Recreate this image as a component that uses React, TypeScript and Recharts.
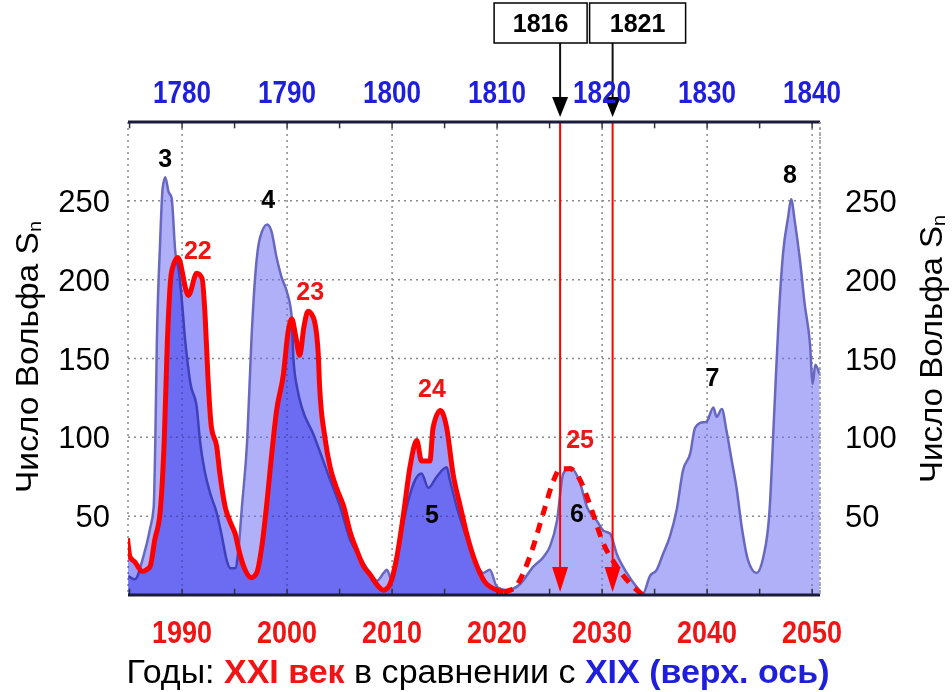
import {
  ComposedChart,
  Area,
  Line,
  XAxis,
  YAxis,
  CartesianGrid,
  ReferenceLine,
  ReferenceDot,
  Customized
} from "recharts"

// нижняя ось — XXI век, верхняя — XIX (сдвиг 210 лет)
const SHIFT = 210
const X_MIN = 1984.85
const X_MAX = 2050.75

const BOTTOM_TICKS = [1990, 2000, 2010, 2020, 2030, 2040, 2050]
const MINOR_TICKS = [1985, 1990, 1995, 2000, 2005, 2010, 2015, 2020, 2025, 2030, 2035, 2040, 2045, 2050]
const Y_TICKS = [50, 100, 150, 200, 250]

// циклы 3–8 (годы по верхней оси)
const OLD_YEARS = [
  1774.9, 1775.5, 1776.3, 1776.95, 1777.3, 1777.45, 1777.6, 1777.9, 1778.15, 1778.4,
  1778.7, 1779.0, 1779.35, 1779.7, 1780.0, 1780.3, 1780.5, 1780.8, 1781.4, 1781.7,
  1782.2, 1782.7, 1783.3, 1783.8, 1784.25, 1784.6, 1785.05, 1785.4, 1785.7, 1786.2,
  1786.6, 1786.95, 1787.4, 1788.1, 1788.5, 1789.0, 1789.5, 1789.95, 1790.45, 1790.6,
  1791.0, 1791.4, 1792.5, 1793.45, 1794.1, 1795.05, 1796.0, 1796.95, 1797.9, 1798.55,
  1799.2, 1799.5, 1800.0, 1800.75, 1801.55, 1802.2, 1802.8, 1803.45, 1804.25, 1805.2,
  1805.5, 1806.15, 1806.95, 1807.75, 1808.7, 1809.3, 1810.0, 1810.9, 1812.2, 1813.45,
  1814.4, 1815.05, 1815.7, 1816.3, 1816.95, 1817.9, 1818.55, 1819.5, 1820.1, 1820.75,
  1821.4, 1822.35, 1823.3, 1823.9, 1824.55, 1825.2, 1825.8, 1826.45, 1827.1, 1827.7,
  1828.4, 1828.85, 1829.3, 1829.95, 1830.6, 1830.9, 1831.4, 1831.85, 1832.35, 1832.8,
  1833.3, 1833.9, 1834.7, 1835.35, 1835.95, 1836.4, 1836.85, 1837.25, 1837.7, 1838.0,
  1838.35, 1838.85, 1839.3, 1839.8, 1840.05, 1840.3, 1840.7
]
const OLD_SN = [
  12, 10, 24, 42, 56, 98, 161, 222, 258, 265,
  256, 252, 218, 205, 185, 161, 149, 134, 119, 98,
  77, 64, 52, 37, 22, 17, 17, 31, 56, 98,
  161, 201, 226, 235, 231, 214, 201, 193, 176, 150,
  130, 119, 102, 85, 73, 56, 35, 24, 14, 9,
  14, 16, 9, 35, 60, 73, 77, 68, 75, 81,
  73, 56, 39, 24, 14, 16, 5, 3, 7, 18,
  24, 31, 47, 77, 81, 71, 56, 47, 41, 39,
  26, 14, 5, 1, 12, 16, 26, 37, 54, 79,
  90, 106, 109, 110, 119, 113, 118, 104, 85, 68,
  43, 22, 14, 24, 54, 117, 180, 218, 239, 251,
  237, 212, 184, 159, 134, 146, 140
]

// циклы 22–24 (годы по нижней оси)
const MODERN_YEARS = [
  1984.8, 1985.05, 1985.5, 1986.2, 1986.6, 1986.95, 1987.4, 1987.9, 1988.3, 1988.6,
  1989.0, 1989.6, 1990.6, 1991.4, 1991.9, 1992.2, 1992.45, 1992.8, 1993.3, 1993.6,
  1994.1, 1994.6, 1995.05, 1995.5, 1996.0, 1996.6, 1997.1, 1997.6, 1998.1, 1998.5,
  1999.0, 1999.65, 2000.1, 2000.45, 2000.8, 2001.2, 2001.6, 2002.0, 2002.5, 2002.95,
  2003.1, 2003.6, 2004.1, 2004.7, 2005.4, 2006.0, 2006.6, 2007.3, 2007.9, 2008.5,
  2009.2, 2009.65, 2010.45, 2011.1, 2011.7, 2012.35, 2012.8, 2013.6, 2013.9, 2014.6,
  2015.2, 2015.8, 2016.5, 2017.1, 2018.1, 2019.0, 2020.6
]
const MODERN_SN = [
  36, 24, 21, 15, 16, 18, 35, 52, 98, 161,
  205, 214, 190, 204, 201, 176, 140, 106, 94, 77,
  56, 46, 39, 26, 16, 11, 14, 31, 60, 87,
  117, 140, 167, 175, 165, 152, 170, 180, 176, 155,
  132, 100, 81, 68, 56, 40, 29, 18, 13, 7,
  3, 5, 24, 52, 81, 98, 85, 85, 106, 117,
  106, 77, 56, 39, 18, 7, 2
]

// прогноз цикла 25
const FORECAST_YEARS = [2020.6, 2021.55, 2023.1, 2024.4, 2025.4, 2026.0, 2026.95, 2027.9, 2028.9, 2030.1, 2031.4, 2032.7, 2033.9]
const FORECAST_SN = [2, 4, 24, 52, 73, 80, 80, 73, 56, 33, 18, 7, 0]

const OLD_CYCLES = [
  { name: "3", year: 1988.4, sn: 277 },
  { name: "4", year: 1998.2, sn: 251 },
  { name: "5", year: 2013.8, sn: 51 },
  { name: "6", year: 2027.6, sn: 52 },
  { name: "7", year: 2040.5, sn: 138 },
  { name: "8", year: 2047.9, sn: 267 }
]
const NEW_CYCLES = [
  { name: "22", year: 1991.5, sn: 219 },
  { name: "23", year: 2002.2, sn: 193 },
  { name: "24", year: 2013.8, sn: 131 },
  { name: "25", year: 2027.9, sn: 99 }
]

// отмеченные годы XIX века
const MARKED_YEARS = [1816, 1821]

const RED = "#f01414"
const BLUE = "#1e1edc"
const FONT = "'Liberation Sans', Arial, sans-serif"

type Row = { x: number; old?: number; modern?: number; forecast?: number }

function buildRows(): Row[] {
  const map = new Map<number, Row>()
  const put = (x: number, key: "old" | "modern" | "forecast", v: number) => {
    const k = Math.round(x * 100) / 100
    const r = map.get(k) ?? { x: k }
    r[key] = v
    map.set(k, r)
  }
  OLD_YEARS.forEach((y, i) => put(y + SHIFT, "old", OLD_SN[i]))
  MODERN_YEARS.forEach((y, i) => put(y, "modern", MODERN_SN[i]))
  FORECAST_YEARS.forEach((y, i) => put(y, "forecast", FORECAST_SN[i]))
  return [...map.values()].sort((a, b) => a.x - b.x)
}

const rows = buildRows()

const BOXES: Record<number, [number, number]> = {
  1816: [-66, 27],
  1821: [-23, 73]
}

const markerShape = (year: number) => (p: any) => {
  const x = p.x1
  const top = Math.min(p.y1, p.y2)
  const bot = Math.max(p.y1, p.y2)
  const [l, r] = BOXES[year]
  return (
    <g>
      <line x1={x} x2={x} y1={top} y2={bot - 22} stroke="#ff0000" strokeWidth={2} />
      <polygon points={`${x - 8},${bot - 28} ${x + 8},${bot - 28} ${x},${bot - 3}`} fill="#ff0000" />
      <line x1={x} x2={x} y1={43} y2={100} stroke="#111" strokeWidth={2} />
      <polygon points={`${x - 8},${top - 25} ${x + 8},${top - 25} ${x},${top - 5}`} fill="#000" />
      <rect x={x + l} y={3} width={r - l} height={40} fill="#fff" stroke="#000" strokeWidth={1.5} />
      <text
        x={x + (l + r) / 2}
        y={23}
        textAnchor="middle"
        dominantBaseline="central"
        fontFamily={FONT}
        fontWeight="bold"
        fontSize={25}
        fill="#000"
      >
        {year}
      </text>
    </g>
  )
}

// узкие подписи лет (в оригинале Arial Narrow)
const BottomTick = (p: any) => (
  <text
    x={p.x}
    y={p.y + 48}
    textAnchor="middle"
    fill={RED}
    fontFamily={FONT}
    fontWeight="bold"
    fontSize={31}
    textLength={60}
    lengthAdjust="spacingAndGlyphs"
  >
    {p.payload.value}
  </text>
)

const TopTick = (p: any) => (
  <text
    x={p.x}
    y={p.y - 19}
    textAnchor="middle"
    fill={BLUE}
    fontFamily={FONT}
    fontWeight="bold"
    fontSize={32}
    textLength={58}
    lengthAdjust="spacingAndGlyphs"
  >
    {p.payload.value - SHIFT}
  </text>
)

const Titles = () => (
  <g fontFamily={FONT}>
    <text
      transform="rotate(-90, 27, 357)"
      x={27}
      y={357}
      textAnchor="middle"
      dominantBaseline="central"
      fontSize={32}
      fill="#000"
      textLength={272}
      lengthAdjust="spacingAndGlyphs"
    >
      Число Вольфа S<tspan fontSize={19} dy={7}>n</tspan>
    </text>
    <text
      transform="rotate(-90, 931, 349)"
      x={931}
      y={349}
      textAnchor="middle"
      dominantBaseline="central"
      fontSize={32}
      fill="#000"
      textLength={268}
      lengthAdjust="spacingAndGlyphs"
    >
      Число Вольфа S<tspan fontSize={19} dy={7}>n</tspan>
    </text>
    <text
      x={478}
      y={683}
      textAnchor="middle"
      fontSize={34}
      fill="#000"
      textLength={703}
      lengthAdjust="spacingAndGlyphs"
    >
      Годы: <tspan fill={RED} fontWeight="bold">XXI век</tspan> в сравнении с{" "}
      <tspan fill={BLUE} fontWeight="bold">XIX (верх. ось)</tspan>
    </text>
  </g>
)

export default function App() {
  return (
    <div style={{ position: "absolute", left: 0, top: 0, width: 952, height: 692, background: "#fff" }}>
      <style>{`.modern-fill { mix-blend-mode: multiply; }`}</style>
      <ComposedChart
        width={952}
        height={692}
        data={rows}
        margin={{ top: 82, right: 52, bottom: 57, left: 48 }}
      >
        <CartesianGrid stroke="#8a8a8a" strokeDasharray="2 4" strokeWidth={1.5} />
        <XAxis
          dataKey="x"
          type="number"
          domain={[X_MIN, X_MAX]}
          allowDataOverflow
          ticks={BOTTOM_TICKS}
          height={40}
          tickLine={false}
          tickSize={0}
          tickMargin={0}
          axisLine={{ stroke: "#1b1b3b", strokeWidth: 3 }}
          tick={BottomTick}
        />
        <XAxis
          xAxisId="top"
          orientation="top"
          dataKey="x"
          type="number"
          domain={[X_MIN, X_MAX]}
          allowDataOverflow
          ticks={BOTTOM_TICKS}
          height={40}
          tickLine={false}
          tickSize={0}
          tickMargin={0}
          axisLine={{ stroke: "#1b1b3b", strokeWidth: 3 }}
          tick={TopTick}
        />
        <YAxis
          domain={[0, 300]}
          allowDataOverflow
          ticks={Y_TICKS}
          width={80}
          axisLine={false}
          tickLine={false}
          tickSize={0}
          tickMargin={18}
          tick={{ fill: "#000", fontSize: 31, fontFamily: FONT }}
        />
        <YAxis
          yAxisId="right"
          orientation="right"
          domain={[0, 300]}
          allowDataOverflow
          ticks={Y_TICKS}
          width={80}
          axisLine={{ stroke: "#9a9a9a", strokeDasharray: "2 3", strokeWidth: 1.5 }}
          tickLine={false}
          tickSize={0}
          tickMargin={25}
          tick={{ fill: "#000", fontSize: 31, fontFamily: FONT, textAnchor: "start" }}
        />

        <Area
          dataKey="old"
          type="monotone"
          connectNulls
          fill="#6f6ff2"
          fillOpacity={0.55}
          stroke="#6868c0"
          strokeWidth={2.5}
          dot={false}
          activeDot={false}
          isAnimationActive={false}
        />
        <Area
          dataKey="modern"
          type="monotone"
          className="modern-fill"
          connectNulls
          fill="#9c9cfa"
          fillOpacity={1}
          stroke="none"
          dot={false}
          activeDot={false}
          isAnimationActive={false}
        />

        {MINOR_TICKS.map((t) => (
          <ReferenceLine
            key={`tb-${t}`}
            segment={[{ x: t, y: 0 }, { x: t, y: 4 }]}
            stroke="#333"
            strokeWidth={1.5}
          />
        ))}
        {MINOR_TICKS.map((t) => (
          <ReferenceLine
            key={`tt-${t}`}
            segment={[{ x: t, y: 300 }, { x: t, y: 296 }]}
            stroke="#333"
            strokeWidth={1.5}
          />
        ))}

        <Line
          dataKey="modern"
          type="monotone"
          connectNulls
          stroke="#ff0000"
          strokeWidth={5}
          strokeLinejoin="round"
          dot={false}
          activeDot={false}
          isAnimationActive={false}
        />
        <Line
          dataKey="forecast"
          type="monotone"
          connectNulls
          stroke="#ff0000"
          strokeWidth={5}
          strokeDasharray="10 8"
          dot={false}
          activeDot={false}
          isAnimationActive={false}
        />

        {MARKED_YEARS.map((y) => (
          <ReferenceLine key={`m-${y}`} x={y + SHIFT} shape={markerShape(y)} />
        ))}

        {OLD_CYCLES.map((c) => (
          <ReferenceDot
            key={`oc-${c.name}`}
            x={c.year}
            y={c.sn}
            r={0}
            fill="none"
            stroke="none"
            label={{ value: c.name, position: "center", fill: "#000", fontSize: 25, fontWeight: "bold", fontFamily: FONT }}
          />
        ))}
        {NEW_CYCLES.map((c) => (
          <ReferenceDot
            key={`nc-${c.name}`}
            x={c.year}
            y={c.sn}
            r={0}
            fill="none"
            stroke="none"
            label={{ value: c.name, position: "center", fill: RED, fontSize: 25, fontWeight: "bold", fontFamily: FONT }}
          />
        ))}

        <Customized component={<Titles />} />
      </ComposedChart>
    </div>
  )
}
